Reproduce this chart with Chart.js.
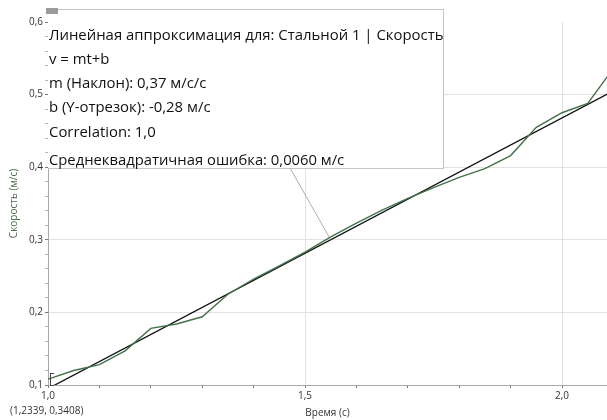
<!DOCTYPE html>
<html lang="ru">

<head>
    <meta charset="UTF-8">
    <title>Скорость</title>
    <script src="https://cdn.jsdelivr.net/npm/chart.js"></script>
    <style>
        body { margin: 0; background: #fff; }
        #wrap { position: relative; width: 607px; height: 420px; }
        #fitBox {
            position: absolute; left: 48px; top: 9px; width: 395px; height: 158px;
            background: #fff; border: 1px solid #c4c4c4; border-left: none;
            font-family: 'Open Sans', sans-serif; color: #111;
        }
        #fitBox div { position: absolute; left: 1px; white-space: nowrap; line-height: 20px; font-size: 14.9px; }
        #boxIcon { position: absolute; left: 46px; top: 8px; width: 12px; height: 6px; background: #9a9a9a; }
        #readout { position: absolute; left: 10px; top: 403px; font: 10px 'Open Sans', sans-serif; color: #333; }
        #bracket { position: absolute; left: 50px; top: 373px; width: 3px; height: 11px; border: 1px solid #444; border-right: none; }
    </style>
</head>

<body>
    <div id="wrap">
        <canvas id="chart" width="607" height="420"></canvas>
        <div id="fitBox">
            <div style="top:14px">Линейная аппроксимация для: Стальной 1 | Скорость</div>
            <div style="top:38px">v = mt+b</div>
            <div style="top:62px">m (Наклон): 0,37 м/с/с</div>
            <div style="top:86px">b (Y-отрезок): -0,28 м/с</div>
            <div style="top:111px">Correlation: 1,0</div>
            <div style="top:139px;font-size:14.8px">Среднеквадратичная ошибка: 0,0060 м/с</div>
        </div>
        <div id="boxIcon"></div>
        <div id="bracket"></div>
        <div id="readout">(1,2339, 0,3408)</div>
    </div>

    <script>
        // measured run (time, s / speed, m/s)
        const times = [1.00, 1.05, 1.10, 1.15, 1.20, 1.25, 1.30, 1.35, 1.40, 1.45, 1.50, 1.55,
            1.60, 1.65, 1.70, 1.75, 1.80, 1.85, 1.90, 1.95, 2.00, 2.05, 2.10];
        const speeds = [0.108, 0.120, 0.128, 0.147, 0.178, 0.184, 0.194, 0.225, 0.246, 0.264, 0.283, 0.304,
            0.323, 0.341, 0.357, 0.372, 0.386, 0.398, 0.416, 0.455, 0.475, 0.488, 0.536];

        // linear fit endpoints
        const fitTimes = [1.0, 2.1];
        const fitSpeeds = [0.095, 0.505];

        const xTicks = [1.0, 1.1, 1.2, 1.3, 1.4, 1.5, 1.6, 1.7, 1.8, 1.9, 2.0];
        const yTicks = [0.10, 0.12, 0.14, 0.16, 0.18, 0.20, 0.22, 0.24, 0.26, 0.28, 0.30, 0.32, 0.34,
            0.36, 0.38, 0.40, 0.42, 0.44, 0.46, 0.48, 0.50, 0.52, 0.54, 0.56, 0.58, 0.60];
        const xGrid = [1.5, 2.0];
        const yGrid = [0.2, 0.3, 0.4, 0.5];
        const connectAt = 1.55;

        const near = (a, b) => Math.abs(a - b) < 1e-6;
        const isMajor = v => near(v * 10, Math.round(v * 10));
        const fmt = v => v.toFixed(1).replace('.', ',');

        Chart.defaults.font.family = "'Open Sans', sans-serif";
        Chart.defaults.font.size = 10;
        Chart.defaults.color = '#333';

        // thin line from the fit box down to the fit line
        const connector = {
            id: 'connector',
            afterDatasetsDraw(chart) {
                const { ctx, scales } = chart;
                const x2 = scales.x.getPixelForValue(connectAt);
                const y2 = scales.y.getPixelForValue(fitSpeeds[0] + (connectAt - fitTimes[0]) * (fitSpeeds[1] - fitSpeeds[0]) / (fitTimes[1] - fitTimes[0]));
                ctx.save();
                ctx.strokeStyle = '#8a8a8a';
                ctx.lineWidth = 0.7;
                ctx.beginPath();
                ctx.moveTo(290, 168);
                ctx.lineTo(x2, y2);
                ctx.stroke();
                ctx.restore();
            }
        };

        new Chart(document.getElementById('chart'), {
            type: 'line',
            data: {
                datasets: [
                    {
                        label: 'Стальной 1',
                        data: times.map((t, i) => ({ x: t, y: speeds[i] })),
                        borderColor: '#45704a', borderWidth: 1.4, pointRadius: 0, tension: 0
                    },
                    {
                        label: 'Линейная аппроксимация',
                        data: fitTimes.map((t, i) => ({ x: t, y: fitSpeeds[i] })),
                        borderColor: '#111', borderWidth: 1.3, pointRadius: 0
                    }
                ]
            },
            options: {
                responsive: false,
                animation: false,
                layout: { padding: { top: 22, right: 0 } },
                plugins: { legend: { display: false }, tooltip: { enabled: false } },
                scales: {
                    x: {
                        type: 'linear', min: 1.0, max: 2.0875,
                        afterBuildTicks: s => { s.ticks = xTicks.map(v => ({ value: v })); },
                        afterFit: s => { s.height = 35; },
                        border: { color: '#a8a8a8' },
                        grid: {
                            color: c => xGrid.some(g => near(g, c.tick.value)) ? '#e2e2e2' : 'transparent',
                            tickColor: '#777', tickLength: 3
                        },
                        ticks: {
                            padding: 2, maxRotation: 0, autoSkip: false,
                            callback: v => (near(v, 1.0) || near(v, 1.5) || near(v, 2.0)) ? fmt(v) : ''
                        },
                        title: { display: true, text: 'Время (с)', color: '#333', font: { size: 10 }, padding: { top: 0, bottom: 1 } }
                    },
                    y: {
                        min: 0.1, max: 0.6,
                        afterBuildTicks: s => { s.ticks = yTicks.map(v => ({ value: v })); },
                        afterFit: s => { s.width = 48; },
                        border: { color: '#a8a8a8' },
                        grid: {
                            color: c => yGrid.some(g => near(g, c.tick.value)) ? '#e2e2e2' : 'transparent',
                            tickColor: c => isMajor(c.tick.value) ? '#777' : '#b5b5b5', tickLength: 3
                        },
                        ticks: {
                            padding: 2, autoSkip: false,
                            callback: v => isMajor(v) ? fmt(v) : ''
                        },
                        title: { display: true, text: 'Скорость (м/с)', color: '#4d6e4d', font: { size: 10 }, padding: { top: 8, bottom: 0 } }
                    }
                }
            },
            plugins: [connector]
        });
    </script>
</body>

</html>
